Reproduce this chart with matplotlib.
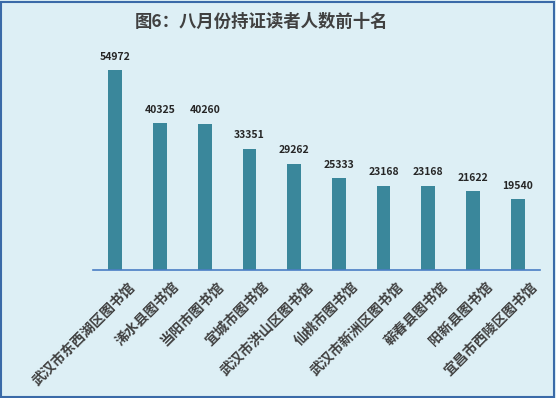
import matplotlib.pyplot as plt
import matplotlib.transforms as mtransforms
from matplotlib.patches import Rectangle

plt.rcParams['font.family'] = ['Noto Sans CJK SC', 'DejaVu Sans']

libraries = ["武汉市东西湖区图书馆", "浠水县图书馆", "当阳市图书馆", "宜城市图书馆",
             "武汉市洪山区图书馆", "仙桃市图书馆", "武汉市新洲区图书馆", "蕲春县图书馆",
             "阳新县图书馆", "宜昌市西陵区图书馆"]
readers = [54972, 40325, 40260, 33351, 29262, 25333, 23168, 23168, 21622, 19540]

bg = '#DDEFF5'
fig = plt.figure(figsize=(5.56, 3.98), dpi=100, facecolor=bg)
fig.patches.append(Rectangle((0.002, 0.003), 0.995, 0.993, transform=fig.transFigure,
                             fill=False, edgecolor='#3A6AA8', linewidth=1.5))

ax = fig.add_axes([93 / 556, 1 - 270 / 398, 447 / 556, 218 / 398])
ax.set_facecolor(bg)
x = range(len(libraries))
bars = ax.bar(x, readers, width=0.31, color='#3A879B')
ax.set_xlim(-0.5, len(libraries) - 0.5)
ax.set_ylim(0, 60000)

for s in ['top', 'right', 'left']:
    ax.spines[s].set_visible(False)
ax.spines['bottom'].set_color('#4A7EC4')
ax.spines['bottom'].set_linewidth(1.2)
ax.set_yticks([])
ax.tick_params(axis='x', length=0, pad=7)
ax.set_xticks(list(x))
ax.set_xticklabels(libraries, rotation=45, ha='right', rotation_mode='anchor',
                   fontsize=10, fontweight='bold', color='#404040')
offset = mtransforms.ScaledTranslation(0.12, 0, fig.dpi_scale_trans)
for lbl in ax.get_xticklabels():
    lbl.set_transform(lbl.get_transform() + offset)

for b, v in zip(bars, readers):
    ax.annotate(f'{v}', (b.get_x() + b.get_width() / 2, v), xytext=(0, 6),
                textcoords='offset points', ha='center', va='bottom',
                fontsize=7.5, fontweight='bold', color='#262626')

fig.text(261 / 556, 1 - 22 / 398, '图6：八月份持证读者人数前十名', ha='center', va='center',
         fontsize=12.5, fontweight='bold', color='#404040')

fig.savefig('out.png', dpi=100, facecolor=bg)
